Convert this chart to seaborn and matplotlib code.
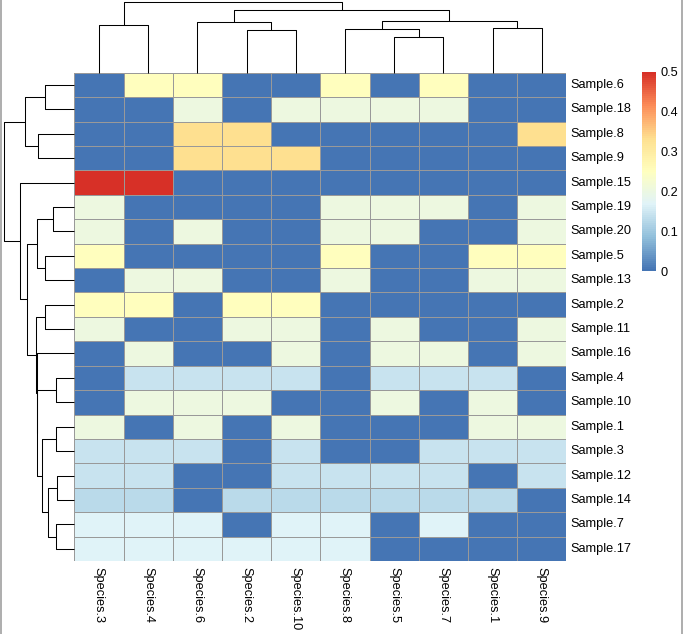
"""
Clustered heatmap of species fractions per sample (pheatmap look-alike)
"""
import numpy as np
import pandas as pd
import matplotlib
matplotlib.use("Agg")
import matplotlib.pyplot as plt
import seaborn as sns
from matplotlib.colors import LinearSegmentedColormap
from matplotlib.lines import Line2D

# Row / column order as shown in the clustered heatmap
samples = ["Sample.6", "Sample.18", "Sample.8", "Sample.9", "Sample.15",
           "Sample.19", "Sample.20", "Sample.5", "Sample.13", "Sample.2",
           "Sample.11", "Sample.16", "Sample.4", "Sample.10", "Sample.1",
           "Sample.3", "Sample.12", "Sample.14", "Sample.7", "Sample.17"]
species = ["Species.3", "Species.4", "Species.6", "Species.2", "Species.10",
           "Species.8", "Species.5", "Species.7", "Species.1", "Species.9"]

# relative abundance per sample, columns in `species` order
values = [
    [0, 0.25, 0.25, 0, 0, 0.25, 0, 0.25, 0, 0],
    [0, 0, 0.2, 0, 0.2, 0.2, 0.2, 0.2, 0, 0],
    [0, 0, 0.3333, 0.3333, 0, 0, 0, 0, 0, 0.3333],
    [0, 0, 0.3333, 0.3333, 0.3333, 0, 0, 0, 0, 0],
    [0.5, 0.5, 0, 0, 0, 0, 0, 0, 0, 0],
    [0.2, 0, 0, 0, 0, 0.2, 0.2, 0.2, 0, 0.2],
    [0.2, 0, 0.2, 0, 0, 0.2, 0.2, 0, 0, 0.2],
    [0.25, 0, 0, 0, 0, 0.25, 0, 0, 0.25, 0.25],
    [0, 0.2, 0.2, 0, 0, 0.2, 0, 0, 0.2, 0.2],
    [0.25, 0.25, 0, 0.25, 0.25, 0, 0, 0, 0, 0],
    [0.2, 0, 0, 0.2, 0.2, 0, 0.2, 0, 0, 0.2],
    [0, 0.2, 0, 0, 0.2, 0, 0.2, 0.2, 0, 0.2],
    [0, 0.1429, 0.1429, 0.1429, 0.1429, 0, 0.1429, 0.1429, 0.1429, 0],
    [0, 0.2, 0.2, 0.2, 0, 0, 0.2, 0, 0.2, 0],
    [0.2, 0, 0.2, 0, 0.2, 0, 0, 0, 0.2, 0.2],
    [0.1429, 0.1429, 0.1429, 0, 0.1429, 0, 0, 0.1429, 0.1429, 0.1429],
    [0.1429, 0.1429, 0, 0, 0.1429, 0.1429, 0.1429, 0.1429, 0, 0.1429],
    [0.125, 0.125, 0, 0.125, 0.125, 0.125, 0.125, 0.125, 0.125, 0],
    [0.1667, 0.1667, 0.1667, 0, 0.1667, 0.1667, 0, 0.1667, 0, 0],
    [0.1667, 0.1667, 0.1667, 0.1667, 0.1667, 0.1667, 0, 0, 0, 0],
]

# tree topology (merge order) as seen in the dendrograms
row_tree = ((("Sample.6", "Sample.18"), ("Sample.8", "Sample.9")),
            ("Sample.15",
             ((("Sample.19", "Sample.20"), ("Sample.5", "Sample.13")),
              (("Sample.2", "Sample.11"),
               ("Sample.16",
                (("Sample.4", "Sample.10"),
                 (("Sample.1", "Sample.3"),
                  (("Sample.12", "Sample.14"), ("Sample.7", "Sample.17")))))))))
col_tree = (("Species.3", "Species.4"),
            (("Species.6", ("Species.2", "Species.10")),
             (("Species.8", ("Species.5", "Species.7")), ("Species.1", "Species.9"))))

# pheatmap default palette: rev(brewer.pal(7, "RdYlBu"))
palette = ["#4575B4", "#91BFDB", "#E0F3F8", "#FFFFBF", "#FEE090", "#FC8D59", "#D73027"]
cbar_ticks = [0, 0.1, 0.2, 0.3, 0.4, 0.5]

plt.rcParams['font.family'] = ['Liberation Sans', 'DejaVu Sans']

W, H = 683, 634
df = pd.DataFrame(values, index=samples, columns=species)


def leaves(node):
    if isinstance(node, str):
        return [node]
    return leaves(node[0]) + leaves(node[1])


def draw_tree(ax, node, vecs, pos, vertical):
    """Draw a complete-linkage (euclidean) dendrogram, return (position, height)."""
    if isinstance(node, str):
        return pos[node], 0.0
    p1, h1 = draw_tree(ax, node[0], vecs, pos, vertical)
    p2, h2 = draw_tree(ax, node[1], vecs, pos, vertical)
    h = max(np.linalg.norm(vecs[a] - vecs[b])
            for a in leaves(node[0]) for b in leaves(node[1]))
    ps, hs = [p1, p1, p2, p2], [h1, h, h, h2]
    if vertical:
        ax.plot(ps, hs, color="black", lw=0.75, clip_on=False, solid_capstyle="butt")
    else:
        ax.plot(hs, ps, color="black", lw=0.75, clip_on=False, solid_capstyle="butt")
    return (p1 + p2) / 2, h


def px_axes(fig, x0, y0, x1, y1):
    return fig.add_axes([x0 / W, 1 - y1 / H, (x1 - x0) / W, (y1 - y0) / H])


fig = plt.figure(figsize=(W / 100, H / 100), dpi=100)

hm_left, hm_top, hm_right, hm_bottom = 74.3, 72.7, 566.3, 561.0
ax = px_axes(fig, hm_left, hm_top, hm_right, hm_bottom)
cax = px_axes(fig, 642, 72, 655.5, 271)

cmap = LinearSegmentedColormap.from_list("rdylbu_r", palette, N=100)
sns.heatmap(df, ax=ax, cbar_ax=cax, cmap=cmap, vmin=0, vmax=0.5,
            linewidths=0.55, linecolor="#999999",
            cbar_kws={"ticks": cbar_ticks})

ax.yaxis.tick_right()
ax.set_yticklabels(samples, rotation=0, fontsize=9.2, va="center")
ax.set_xticklabels(species, rotation=270, fontsize=9.2, ha="center", va="top")
ax.tick_params(axis="y", length=0, pad=3.2)
ax.tick_params(axis="x", length=0, pad=4)
ax.set_xlabel("")
ax.set_ylabel("")

cb = ax.collections[0].colorbar
cb.outline.set_visible(False)
cb.ax.tick_params(length=0, pad=3.6, labelsize=9.2)
cb.ax.set_yticklabels(["0", "0.1", "0.2", "0.3", "0.4", "0.5"])

# column dendrogram
vec_cols = {c: df[c].to_numpy() for c in species}
col_pos = {c: i + 0.5 for i, c in enumerate(species)}
ax_top = px_axes(fig, hm_left, 2.3, hm_right, hm_top)
_, col_h = draw_tree(ax_top, col_tree, vec_cols, col_pos, vertical=True)
ax_top.set_xlim(0, len(species))
ax_top.set_ylim(0, col_h)
ax_top.axis("off")

# row dendrogram
vec_rows = {r: df.loc[r].to_numpy() for r in samples}
row_pos = {r: i + 0.5 for i, r in enumerate(samples)}
ax_left = px_axes(fig, 4.3, hm_top, hm_left, hm_bottom)
_, row_h = draw_tree(ax_left, row_tree, vec_rows, row_pos, vertical=False)
ax_left.set_xlim(row_h, 0)
ax_left.set_ylim(len(samples), 0)
ax_left.axis("off")

# grey frame of the original screenshot
for xp in (0.5, 681.5):
    fig.add_artist(Line2D([xp / W, xp / W], [0, 1], transform=fig.transFigure,
                          color="#a0a0a0", lw=1.2))

fig.savefig("out.png", dpi=100)
plt.close(fig)
